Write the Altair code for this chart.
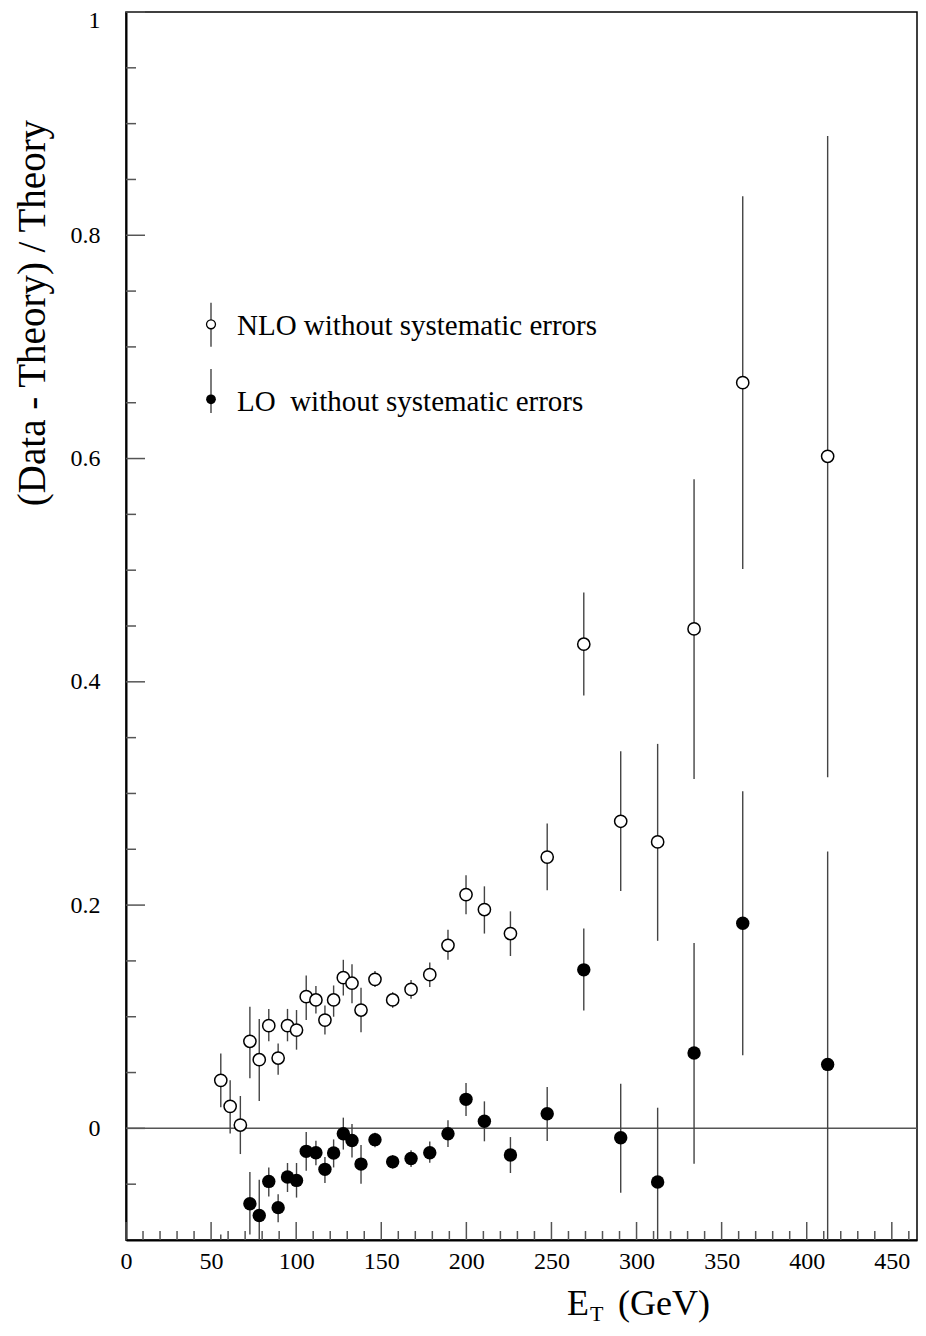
import altair as alt
import pandas as pd

SERIF = "Liberation Serif"

# ---- data ----
ET = [55.7, 61.2, 67.2, 72.8, 78.3, 83.9, 89.4, 94.9, 100.2, 105.9, 111.6, 116.9,
      122.0, 127.7, 132.8, 138.1, 146.3, 156.7, 167.5, 178.5, 189.2, 199.8, 210.6,
      225.9, 247.5, 269.0, 290.7, 312.4, 333.8, 362.4, 412.3]

NLO_VAL = [0.043, 0.0197, 0.003, 0.078, 0.0615, 0.092, 0.063, 0.092, 0.088, 0.118, 0.115, 0.097,
           0.115, 0.135, 0.130, 0.106, 0.1335, 0.115, 0.1245, 0.1377, 0.164, 0.2094, 0.196,
           0.1745, 0.243, 0.4337, 0.2751, 0.2566, 0.4474, 0.668, 0.602]
NLO_LO = [0.019, -0.0045, -0.023, 0.045, 0.0245, 0.078, 0.048, 0.078, 0.0705, 0.097, 0.103, 0.084,
          0.100, 0.119, 0.112, 0.086, 0.1266, 0.108, 0.116, 0.1266, 0.151, 0.1918, 0.1745,
          0.1544, 0.2133, 0.3877, 0.2127, 0.168, 0.313, 0.501, 0.3145]
NLO_HI = [0.067, 0.043, 0.029, 0.109, 0.098, 0.107, 0.076, 0.107, 0.106, 0.137, 0.1275, 0.110,
          0.128, 0.151, 0.147, 0.126, 0.141, 0.122, 0.133, 0.1485, 0.178, 0.2267, 0.2168,
          0.1944, 0.273, 0.480, 0.3378, 0.3444, 0.5815, 0.8349, 0.889]

ET_LO = [55.7, 72.8, 78.3, 83.9, 89.4, 94.9, 100.2, 105.9, 111.6, 116.9, 122.0, 127.7,
         132.8, 138.1, 146.3, 156.7, 167.5, 178.5, 189.2, 199.8, 210.6, 225.9, 247.5,
         269.0, 290.7, 312.4, 333.8, 362.4, 412.3]
LO_VAL = [-0.12, -0.0675, -0.078, -0.0475, -0.071, -0.0436, -0.0466, -0.0206, -0.0218, -0.0367,
          -0.022, -0.0048, -0.0108, -0.032, -0.0101, -0.030, -0.027, -0.0218, -0.0048, 0.026,
          0.0063, -0.0239, 0.0131, 0.142, -0.0084, -0.048, 0.0675, 0.1837, 0.0573]
LO_LO = [-0.145, -0.095, -0.11, -0.061, -0.084, -0.057, -0.062, -0.038, -0.033, -0.049,
         -0.035, -0.019, -0.026, -0.0496, -0.017, -0.036, -0.0347, -0.0307, -0.0167, 0.011,
         -0.0116, -0.040, -0.0114, 0.1055, -0.0576, -0.12, -0.0317, 0.0654, -0.13]
LO_HI = [-0.095, -0.039, -0.046, -0.035, -0.059, -0.031, -0.031, -0.0033, -0.011, -0.0257,
         -0.0099, 0.0096, 0.004, -0.015, -0.004, -0.024, -0.0197, -0.0117, 0.0072, 0.0406,
         0.0242, -0.0078, 0.037, 0.179, 0.040, 0.0185, 0.166, 0.302, 0.248]

X_LABELS = [0, 50, 100, 150, 200, 250, 300, 350, 400, 450]
Y_LABELS = [0, 0.2, 0.4, 0.6, 0.8, 1.0]
X_MINOR = [v for v in range(10, 461, 10) if v % 50 != 0]
Y_MINOR = [-0.05, 0.05, 0.1, 0.15, 0.25, 0.3, 0.35, 0.45, 0.5, 0.55, 0.65, 0.7, 0.75,
           0.85, 0.9, 0.95]

LEGEND = ["NLO without systematic errors", "LO\u00a0 without systematic errors"]
Y_TITLE = "(Data - Theory) / Theory"

W, H = 791, 1228

nlo = pd.DataFrame({"x": ET, "y": NLO_VAL, "lo": NLO_LO, "hi": NLO_HI})
lo = pd.DataFrame({"x": ET_LO, "y": LO_VAL, "lo": LO_LO, "hi": LO_HI})

xs = alt.Scale(domain=[0, 464.8], nice=False, zero=False)
ys = alt.Scale(domain=[-0.1, 1.0], nice=False, zero=False)

xaxis = alt.Axis(values=X_LABELS, ticks=False, tickSize=0, grid=False, domain=True,
                 domainColor="black", domainWidth=2, labelFont=SERIF, labelFontSize=24,
                 labelColor="black", labelPadding=9, labelFlush=False, title=None)
yaxis = alt.Axis(values=Y_LABELS, ticks=False, tickSize=0, grid=False, domain=True,
                 domainColor="black", domainWidth=2, labelFont=SERIF, labelFontSize=24,
                 labelColor="black", labelPadding=26, labelFlush=False, format="~g",
                 labelOffset={"condition": {"test": "datum.value == 1", "value": 8}, "value": 0},
                 title=None)

X = alt.X("x:Q", scale=xs, axis=xaxis)
Y = alt.Y("y:Q", scale=ys, axis=yaxis)

zero = alt.Chart(pd.DataFrame({"y": [0.0]})).mark_rule(color="#555", strokeWidth=1.5).encode(y=Y)

def bars(df):
    return alt.Chart(df).mark_rule(color="#444", strokeWidth=1.4, clip=True).encode(
        x=X, y=alt.Y("lo:Q", scale=ys, axis=yaxis), y2="hi:Q")

nlo_pts = alt.Chart(nlo).mark_point(shape="circle", filled=True, fill="white", stroke="black",
                                    strokeWidth=1.5, size=150, opacity=1, clip=True).encode(x=X, y=Y)
lo_pts = alt.Chart(lo).mark_circle(color="black", size=180, opacity=1, clip=True).encode(x=X, y=Y)

ymaj = alt.Chart(pd.DataFrame({"y": Y_LABELS})).mark_rule(color="#555", strokeWidth=1.5).encode(
    y=Y, x=alt.value(0), x2=alt.value(19))
ymin = alt.Chart(pd.DataFrame({"y": Y_MINOR})).mark_rule(color="#555", strokeWidth=1.5).encode(
    y=Y, x=alt.value(0), x2=alt.value(10))
xmaj = alt.Chart(pd.DataFrame({"x": X_LABELS})).mark_rule(color="#555", strokeWidth=1.5).encode(
    x=X, y=alt.value(H), y2=alt.value(H - 18))
xmin = alt.Chart(pd.DataFrame({"x": X_MINOR})).mark_rule(color="#555", strokeWidth=1.5).encode(
    x=X, y=alt.value(H), y2=alt.value(H - 9))

one = pd.DataFrame({"k": [0]})

def txt(text, x, y, size, **kw):
    return alt.Chart(one).mark_text(text=text, font=SERIF, fontSize=size, color="black",
                                    align="left", baseline="alphabetic", **kw).encode(
        x=alt.value(x), y=alt.value(y))

leg = [
    alt.Chart(one).mark_rule(color="#444", strokeWidth=1.4).encode(
        x=alt.value(85), y=alt.value(290.7), y2=alt.value(334.7)),
    alt.Chart(one).mark_point(shape="circle", filled=True, fill="white", stroke="black",
                              strokeWidth=1.3, size=80, opacity=1).encode(
        x=alt.value(85), y=alt.value(312.3)),
    txt(LEGEND[0], 111, 323, 29),
    alt.Chart(one).mark_rule(color="#444", strokeWidth=1.4).encode(
        x=alt.value(85), y=alt.value(357), y2=alt.value(401)),
    alt.Chart(one).mark_circle(color="black", size=95, opacity=1).encode(
        x=alt.value(85), y=alt.value(387.3)),
    txt(LEGEND[1], 111, 398.7, 29),
]

titles = [
    alt.Chart(one).mark_text(text=Y_TITLE, font=SERIF, fontSize=39, color="black", angle=270,
                             align="center", baseline="middle").encode(
        x=alt.value(-93), y=alt.value(301)),
    txt("E", 441, 1303, 36),
    txt("T", 464, 1309, 22),
    txt("(GeV)", 492, 1303, 36),
]

chart = alt.layer(
    zero, bars(nlo), bars(lo), nlo_pts, lo_pts, ymaj, ymin, xmaj, xmin, *leg, *titles
).properties(
    width=W, height=H,
    autosize=alt.AutoSizeParams(type="none"),
    padding={"left": 118, "top": 4, "right": 1, "bottom": 88},
    background="white",
).configure_view(stroke="black", strokeWidth=1.5)

chart.save("out.html", embed_options={"renderer": "svg", "actions": False})
